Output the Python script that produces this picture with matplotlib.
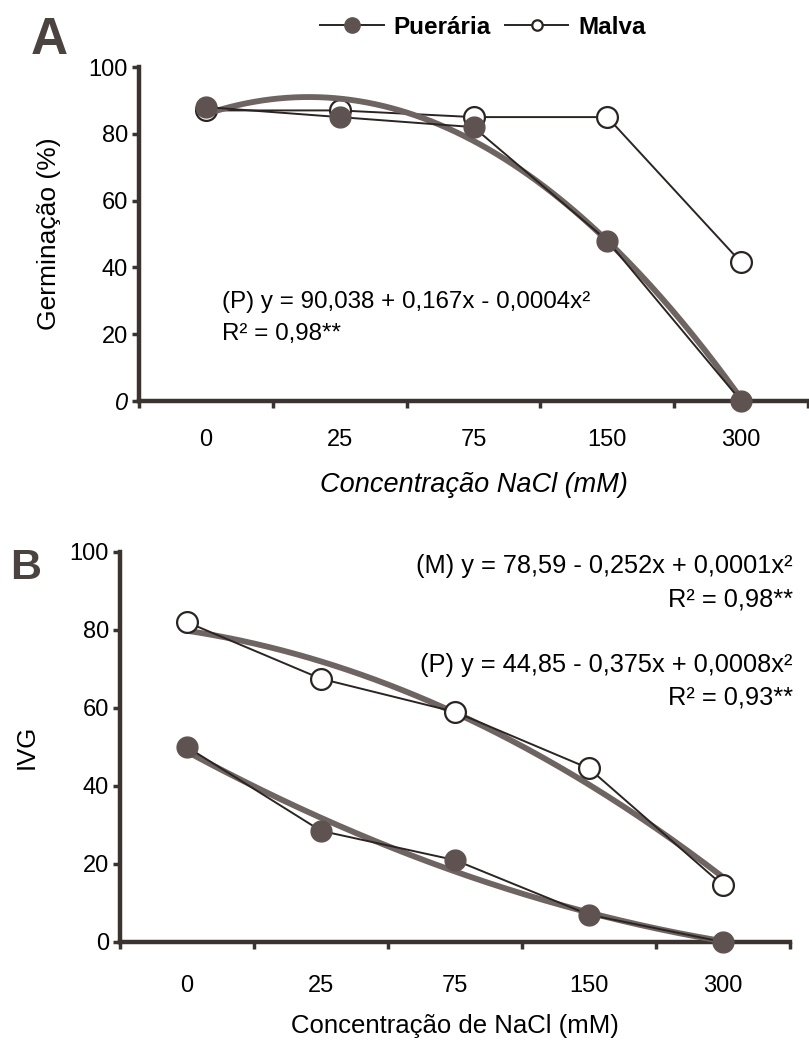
import numpy as np
import matplotlib.pyplot as plt
from matplotlib.lines import Line2D

plt.rcParams['font.family'] = ['Liberation Sans', 'DejaVu Sans']

# NaCl concentrations (mM), drawn at equally spaced positions
conc = ['0', '25', '75', '150', '300']

# A - germination (%)
germ_pueraria = [88, 85, 82, 48, 0]
germ_malva = [87, 87, 85, 85, 41.5]

# B - IVG
ivg_pueraria = [50, 28.5, 21, 7, 0]
ivg_malva = [82, 67.5, 59, 44.5, 14.5]

dark = '#5e5350'
fitc = '#6e6461'
ink = '#2a2422'
axc = '#3a3330'

pos = np.arange(len(conc))
fine = np.linspace(0, len(conc) - 1, 200)

fig = plt.figure(figsize=(8.09, 10.44), dpi=100)
axA = fig.add_axes([139 / 809, 1 - 401 / 1044, 669 / 809, 334 / 1044])
axB = fig.add_axes([120 / 809, 1 - 942 / 1044, 670 / 809, 390 / 1044])


def style(ax, xpad):
    for s in ['top', 'right']:
        ax.spines[s].set_visible(False)
    for s in ['left', 'bottom']:
        ax.spines[s].set_linewidth(3.2)
        ax.spines[s].set_color(axc)
    ax.set_xlim(-0.5, 4.5)
    ax.set_ylim(0, 100)
    ax.set_yticks([0, 20, 40, 60, 80, 100])
    ax.set_xticks(pos)
    ax.set_xticklabels(conc)
    ax.set_xticks(np.arange(-0.5, 4.6, 1), minor=True)
    ax.tick_params(axis='x', which='major', length=0, pad=xpad, labelsize=17)
    ax.tick_params(axis='x', which='minor', length=5, width=2.5, color=axc)
    ax.tick_params(axis='y', length=5, width=2.5, color=axc, labelsize=17, pad=3)


def draw(ax, pts, filled, z):
    # quadratic trend of the points
    fit = np.polyval(np.polyfit(pos, pts, 2), fine)
    ax.plot(fine, fit, color=fitc, lw=4.2, solid_capstyle='round', zorder=z, clip_on=False)
    ax.plot(pos, pts, color=ink, lw=1.4, zorder=z + 1, clip_on=False)
    if filled:
        ax.plot(pos, pts, 'o', ms=15, mfc=dark, mec=dark, zorder=z + 2, clip_on=False)
    else:
        ax.plot(pos, pts, 'o', ms=15, mfc='white', mec=ink, mew=1.6, zorder=z + 2, clip_on=False)


# panel A
style(axA, 20)
axA.plot(pos, germ_malva, color=ink, lw=1.4, zorder=3, clip_on=False)
axA.plot(pos, germ_malva, 'o', ms=15, mfc='white', mec=ink, mew=1.6, zorder=4, clip_on=False)
draw(axA, germ_pueraria, True, 5)
axA.set_yticklabels(['0', '20', '40', '60', '80', '100'])
axA.get_yticklabels()[0].set_style('italic')
axA.set_ylabel('Germinação (%)', fontsize=19, labelpad=20)
axA.set_xlabel('Concentração NaCl (mM)', fontsize=19.5, style='italic', labelpad=15)
axA.text(0.12, 29.5, '(P) y = 90,038 + 0,167x - 0,0004x²', fontsize=17.4, va='center')
axA.text(0.12, 20, 'R² = 0,98**', fontsize=17.4, va='center')

# panel B
style(axB, 24)
draw(axB, ivg_malva, False, 2)
draw(axB, ivg_pueraria, True, 5)
axB.set_ylabel('IVG', fontsize=18.5, labelpad=22)
axB.set_xlabel('Concentração de NaCl (mM)', fontsize=18.5, labelpad=12)
axB.text(4.52, 96.4, '(M) y = 78,59 - 0,252x + 0,0001x²', fontsize=18.3, ha='right', va='center')
axB.text(4.52, 87.7, 'R² = 0,98**', fontsize=18.3, ha='right', va='center')
axB.text(4.52, 71, '(P) y = 44,85 - 0,375x + 0,0008x²', fontsize=18.3, ha='right', va='center')
axB.text(4.52, 62.8, 'R² = 0,93**', fontsize=18.3, ha='right', va='center')

fig.text(49 / 809, 1 - 40 / 1044, 'A', fontsize=37, fontweight='bold', color='#4a4340',
         ha='center', va='center')
fig.text(26 / 809, 1 - 568 / 1044, 'B', fontsize=31, fontweight='bold', color='#4a4340',
         ha='center', va='center')

handles = [
    Line2D([], [], color=ink, lw=1.4, marker='o', ms=11, mfc=dark, mec=dark),
    Line2D([], [], color=ink, lw=1.4, marker='o', ms=7.5, mfc='white', mec=ink, mew=1.6),
]
fig.legend(handles, ['Puerária', 'Malva'], loc='center', bbox_to_anchor=(483 / 809, 1 - 27 / 1044),
           ncol=2, frameon=False, handlelength=2.6, columnspacing=0.6,
           handletextpad=0.4, prop={'weight': 'bold', 'size': 17.5})

fig.savefig('out.png', dpi=100)
